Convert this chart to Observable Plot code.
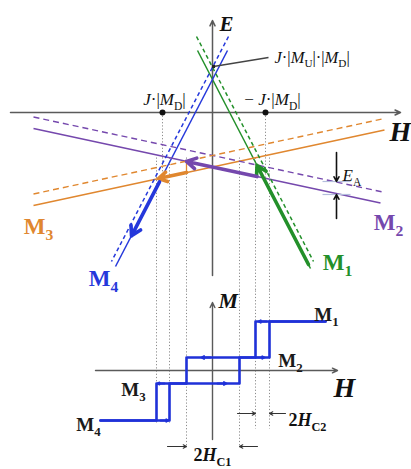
<!DOCTYPE html>
<html>
<head>
<meta charset="utf-8">
<script src="https://cdn.jsdelivr.net/npm/d3@7"></script>
<script src="https://cdn.jsdelivr.net/npm/@observablehq/plot@0.6"></script>
<style>
  html, body { margin: 0; padding: 0; background: #fff; overflow: hidden; }
  #chart svg { display: block; }
</style>
</head>
<body>
<div id="chart"></div>
<script>
// ---- Energy branches E(H) of the four magnetization states ----
// each branch is a straight segment (H1,E1) -> (H2,E2); "shifted" = raised by E_A
const branchState   = ["M1", "M1", "M4", "M4", "M2", "M2", "M3", "M3"];
const branchShifted = [false, true, false, true, false, true, false, true];
const branchH1 = [-1.5, -1.6, 1.5, 1.6, -17.9, -17.9, -17.9, -17.9];
const branchE1 = [6.2, 7.6, 6.2, 7.6, -1.6, -0.45, -9.3, -8.15];
const branchH2 = [9.8, 10.1, -9.7, -10.1, 16.8, 17.2, 17.2, 17.2];
const branchE2 = [-15.6, -14.9, -15.4, -14.9, -9.06, -7.99, -1.75, -0.6];

// ---- Down-sweep of the field: M1 -> M2 -> M3 -> M4 ----
const sweepState = ["M1", "M1", "M2", "M3", "M3", "M4"];
const sweepStep  = ["branch", "jump", "branch", "jump", "branch", "branch"];
const sweepH1 = [9.6, 4.45, 4.45, -2.6, -2.6, -5.3];
const sweepE1 = [-15.2, -5.3, -6.41, -4.89, -6.01, -6.93];
const sweepH2 = [4.45, 4.45, -2.6, -2.6, -5.4, -8.1];
const sweepE2 = [-5.3, -6.41, -4.89, -6.01, -6.61, -12.33];

// ---- Special points on the H axis (±J·|M_D|) and the crossing J·|M_U|·|M_D| ----
const exchangeH = [-5.0, 5.3];
const crossingE = 4.6;

// ---- Switching fields and magnetization levels of the M(H) loop ----
const switchH = [-5.6, -4.3, -2.6, 2.7, 4.3, 5.7];
const guideEndM = [-5.2, -5.2, -7.7, -7.7, -5.8, -5.8];
const levelState = ["M1", "M2", "M3", "M4"];
const levelM = [4.9, 1.3, -1.3, -5.0];
const loopHmin = -11.2, loopHmax = 11.3;

// direction markers on the loop
const markState = ["M4", "M3", "M3", "M2", "M2", "M1"];
const markH1 = [-5.2, -4.8, 0.5, -0.2, 4.4, 5.4];
const markH2 = [-4.4, -5.5, 1.4, -1.1, 5.2, 4.6];

// E_A marker
const anisoH = 12.4;
const anisoE = [-6.9, -8.2];

const stateColors = {domain: ["M1", "M2", "M3", "M4"], range: ["#23902a", "#7548ad", "#e0872f", "#2538db"]};
const serif = "'Liberation Serif', 'Times New Roman', serif";
const loopBlue = "#1f31d8";

// tables built from the arrays above
const branches = branchState.map((s, i) => ({
  state: s, shifted: branchShifted[i],
  h1: branchH1[i], e1: branchE1[i], h2: branchH2[i], e2: branchE2[i]
}));
const sweep = sweepState.map((s, i) => ({
  state: s, step: sweepStep[i],
  h1: sweepH1[i], e1: sweepE1[i], h2: sweepH2[i], e2: sweepE2[i]
}));
const lvl = Object.fromEntries(levelState.map((s, i) => [s, levelM[i]]));
const loopUp = [
  [loopHmin, lvl.M4], [switchH[1], lvl.M4], [switchH[1], lvl.M3], [switchH[3], lvl.M3],
  [switchH[3], lvl.M2], [switchH[5], lvl.M2], [switchH[5], lvl.M1], [loopHmax, lvl.M1]
].map(([h, m]) => ({h, m, branch: "up"}));
const loopDown = [
  [loopHmax, lvl.M1], [switchH[4], lvl.M1], [switchH[4], lvl.M2], [switchH[2], lvl.M2],
  [switchH[2], lvl.M3], [switchH[0], lvl.M3], [switchH[0], lvl.M4], [loopHmin, lvl.M4]
].map(([h, m]) => ({h, m, branch: "down"}));
const loopMarks = markState.map((s, i) => ({h1: markH1[i], h2: markH2[i], m: lvl[s]}));

// labels
const topStateLabels = [
  {state: "M1", h: 12.5, e: -15.0}, {state: "M2", h: 17.6, e: -11.0},
  {state: "M3", h: -17.4, e: -11.4}, {state: "M4", h: -10.9, e: -16.6}
];
const bottomStateLabels = [
  {state: "M1", h: 11.4, m: 5.6}, {state: "M2", h: 7.8, m: 1.0},
  {state: "M3", h: -7.9, m: -1.9}, {state: "M4", h: -12.4, m: -5.4}
];

// turn "_{x}" into subscripts and "*x*" into italics inside rendered SVG text
function richText(svg) {
  d3.select(svg).selectAll("text").each(function () {
    const s = this.textContent;
    if (!/[_*]/.test(s)) return;
    const el = d3.select(this);
    el.text(null);
    const parts = s.match(/_\{[^}]*\}|\*[^*]*\*|[^_*]+/g);
    let pending = null;
    for (const p of parts) {
      const t = el.append("tspan");
      if (pending) { t.attr("dy", pending); pending = null; }
      if (p.startsWith("_{")) {
        t.text(p.slice(2, -1)).attr("font-size", "68%").attr("font-style", "normal").attr("dy", "0.4em");
        pending = "-0.272em";
      } else if (p.startsWith("*")) {
        t.text(p.slice(1, -1)).attr("font-style", "italic");
      } else {
        t.text(p);
      }
    }
  });
  return svg;
}

// ---------- E–H diagram ----------
const energyPlot = Plot.plot({
  width: 411, height: 290, margin: 0,
  x: {domain: [-21.2, 19.9], axis: null},
  y: {domain: [-17.8, 11.2], axis: null},
  color: stateColors,
  style: {fontFamily: serif, background: "#fff", overflow: "visible"},
  marks: [
    // dotted guides dropping to the M(H) loop
    Plot.link(switchH, {x1: d => d, x2: d => d, y1: -4.5, y2: -17.8, stroke: "#8c8c8c", strokeWidth: 1, strokeDasharray: "1.2,2"}),
    Plot.link(exchangeH, {x1: d => d, x2: d => d, y1: 0, y2: -7.0, stroke: "#8c8c8c", strokeWidth: 1, strokeDasharray: "1.2,2"}),
    // axes
    Plot.arrow([0], {x1: -20.2, y1: 0, x2: 18.8, y2: 0, stroke: "#5a5a5a", strokeWidth: 1.5, headLength: 6, headAngle: 50}),
    Plot.arrow([0], {x1: 0, y1: -16.3, x2: 0, y2: 9.2, stroke: "#5a5a5a", strokeWidth: 1.5, headLength: 6, headAngle: 50}),
    // energy branches
    Plot.link(branches.filter(d => !d.shifted), {x1: "h1", y1: "e1", x2: "h2", y2: "e2", stroke: "state", strokeWidth: 1.5}),
    Plot.link(branches.filter(d => d.shifted && (d.state === "M2" || d.state === "M3")), {x1: "h1", y1: "e1", x2: "h2", y2: "e2", stroke: "state", strokeWidth: 1.4, strokeDasharray: "6,4"}),
    Plot.link(branches.filter(d => d.shifted && (d.state === "M1" || d.state === "M4")), {x1: "h1", y1: "e1", x2: "h2", y2: "e2", stroke: "state", strokeWidth: 1.5, strokeDasharray: "4,3"}),
    // field sweep
    Plot.link(sweep.filter(d => d.step === "jump"), {x1: "h1", y1: "e1", x2: "h2", y2: "e2", stroke: "state", strokeWidth: 1.3}),
    Plot.arrow(sweep.filter(d => d.step === "branch"), {x1: "h1", y1: "e1", x2: "h2", y2: "e2", stroke: "state", strokeWidth: 3.6, headLength: 4.5, headAngle: 60}),
    // E_A gap marker
    Plot.link(anisoE, {x1: anisoH - 1.4, x2: anisoH + 1.4, y1: d => d, y2: d => d, stroke: "#b4bedc", strokeWidth: 1.2}),
    Plot.arrow([0], {x1: anisoH, y1: -4.0, x2: anisoH, y2: anisoE[0], stroke: "#111", strokeWidth: 1.6, headLength: 5, headAngle: 55}),
    Plot.arrow([0], {x1: anisoH, y1: -10.6, x2: anisoH, y2: anisoE[1], stroke: "#111", strokeWidth: 1.6, headLength: 5, headAngle: 55}),
    // points
    Plot.dot(exchangeH, {x: d => d, y: 0, r: 3, fill: "#111"}),
    Plot.link([0], {x1: 0.1, y1: crossingE, x2: 5.6, y2: 5.5, stroke: "#444", strokeWidth: 1.3}),
    Plot.dot([crossingE], {x: 0.1, y: d => d, r: 1.8, fill: "#222", symbol: "square"}),
    // labels
    Plot.text([0], {x: 0.7, y: 8.8, text: () => "E", textAnchor: "start", fontSize: 21, fontWeight: "bold", fontStyle: "italic", fill: "#111"}),
    Plot.text([0], {x: 18.8, y: -2.0, text: () => "H", fontSize: 28, fontWeight: "bold", fontStyle: "italic", fill: "#111"}),
    Plot.text(exchangeH, {x: d => d < 0 ? d + 0.2 : d + 0.7, y: 1.3, text: d => d < 0 ? "*J*·|*M*_{D}|" : "− *J*·|*M*_{D}|", fontSize: 17, fill: "#111"}),
    Plot.text([crossingE], {x: 6.2, y: 5.5, text: () => "*J*·|*M*_{U}|·|*M*_{D}|", textAnchor: "start", fontSize: 16.5, fill: "#111"}),
    Plot.text([0], {x: 13.0, y: -6.3, text: () => "*E*_{A}", textAnchor: "start", fontSize: 17, fill: "#111"}),
    Plot.text(topStateLabels, {x: "h", y: "e", text: d => d.state[0] + "_{" + d.state[1] + "}", fill: "state", fontSize: 23, fontWeight: "bold"})
  ]
});

// ---------- M–H loop ----------
const loopPlot = Plot.plot({
  width: 411, height: 179, margin: 0,
  x: {domain: [-21.2, 19.9], axis: null},
  y: {domain: [-9.9, 8.0], axis: null},
  style: {fontFamily: serif, background: "#fff", overflow: "visible"},
  marks: [
    Plot.link(switchH, {x1: d => d, x2: d => d, y1: 8.0, y2: (d, i) => guideEndM[i], stroke: "#8c8c8c", strokeWidth: 1, strokeDasharray: "1.2,2"}),
    Plot.arrow([0], {x1: -11.7, y1: 0, x2: 12.5, y2: 0, stroke: "#5a5a5a", strokeWidth: 1.4, headLength: 6, headAngle: 50}),
    Plot.arrow([0], {x1: 0, y1: -6.9, x2: 0, y2: 6.8, stroke: "#5a5a5a", strokeWidth: 1.4, headLength: 6, headAngle: 50}),
    Plot.line(loopUp.concat(loopDown), {x: "h", y: "m", z: "branch", stroke: loopBlue, strokeWidth: 2.6}),
    Plot.arrow(loopMarks, {x1: "h1", x2: "h2", y1: "m", y2: "m", stroke: loopBlue, strokeWidth: 1.8, headLength: 5, headAngle: 60}),
    // coercive field spans
    Plot.arrow([[2.5, 4.3], [7.3, 5.7]], {x1: d => d[0], x2: d => d[1], y1: -4.3, y2: -4.3, stroke: "#333", strokeWidth: 1.1, headLength: 5, headAngle: 55}),
    Plot.arrow([[-4.5, -2.6], [4.5, 2.7]], {x1: d => d[0], x2: d => d[1], y1: -7.6, y2: -7.6, stroke: "#333", strokeWidth: 1.1, headLength: 5, headAngle: 55}),
    Plot.text([0], {x: 7.6, y: -5.0, text: () => "2*H*_{C2}", textAnchor: "start", fontSize: 18, fontWeight: "bold", fill: "#111"}),
    Plot.text([0], {x: 0, y: -8.45, text: () => "2*H*_{C1}", fontSize: 18, fontWeight: "bold", fill: "#111"}),
    Plot.text([0], {x: 0.6, y: 7.0, text: () => "M", textAnchor: "start", fontSize: 22, fontWeight: "bold", fontStyle: "italic", fill: "#111"}),
    Plot.text([0], {x: 13.2, y: -1.8, text: () => "H", fontSize: 28, fontWeight: "bold", fontStyle: "italic", fill: "#111"}),
    Plot.text(bottomStateLabels, {x: "h", y: "m", text: d => d.state[0] + "_{" + d.state[1] + "}", fontSize: 19, fontWeight: "bold", fill: "#1a1a1a"})
  ]
});

document.getElementById("chart").append(richText(energyPlot), richText(loopPlot));
</script>
</body>
</html>
